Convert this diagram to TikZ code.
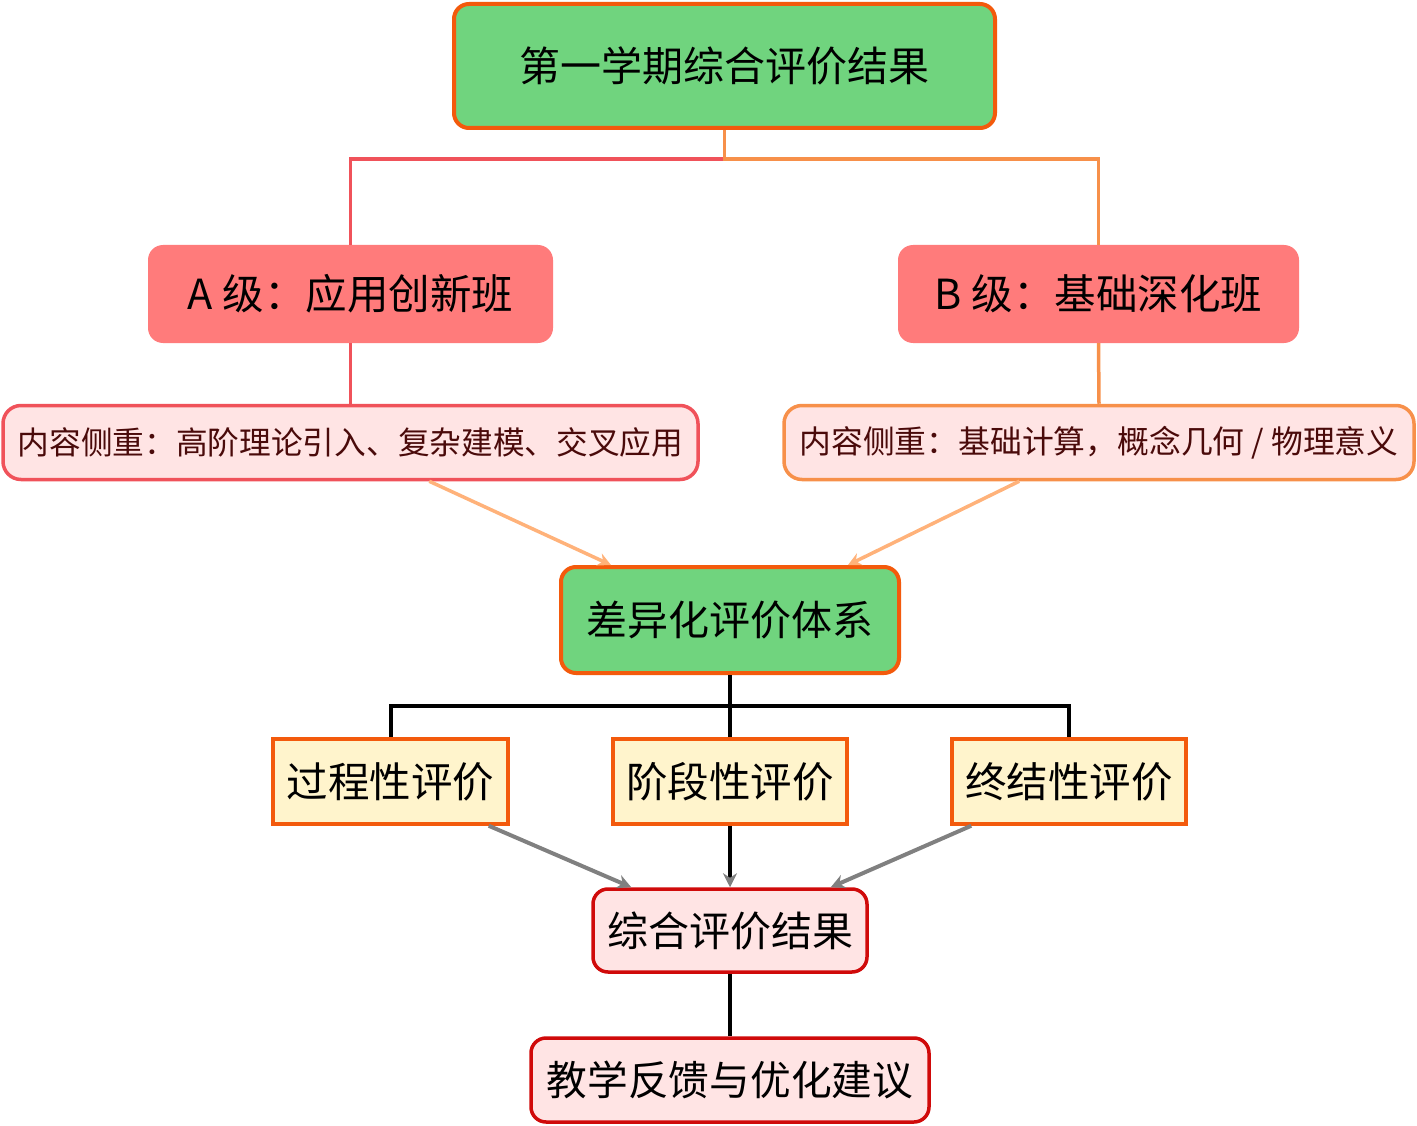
\documentclass[tikz,border=0pt]{standalone}
\usepackage{fontspec}
\newfontfamily\cjk{Noto Sans CJK SC}
\usetikzlibrary{arrows.meta,calc}
\definecolor{gfill}{RGB}{112,212,126}
\definecolor{oborder}{RGB}{243,90,12}
\definecolor{salmon}{RGB}{255,123,123}
\definecolor{redline}{RGB}{240,82,90}
\definecolor{orangeline}{RGB}{247,144,74}
\definecolor{pinkfill}{RGB}{255,228,228}
\definecolor{brown}{RGB}{74,10,10}
\definecolor{lightarrow}{RGB}{255,178,122}
\definecolor{yfill}{RGB}{255,244,204}
\definecolor{dred}{RGB}{208,10,10}
\definecolor{grayarrow}{RGB}{128,128,128}
\tikzset{
  box/.style={rectangle, inner sep=0pt, align=center, font=\cjk},
  greenbox/.style={box, fill=gfill, draw=oborder, line width=4pt, rounded corners=15pt},
  classbox/.style={box, fill=salmon, rounded corners=15pt},
  detailbox/.style={box, fill=pinkfill, line width=3.5pt, rounded corners=18pt, text=brown},
  evalbox/.style={box, fill=yfill, draw=oborder, line width=3.5pt},
  resbox/.style={box, fill=pinkfill, draw=dred, line width=3.5pt, rounded corners=15pt},
  tree/.style={line width=4pt, draw=black},
  garrow/.style={line width=4pt, draw=grayarrow, -{Stealth[length=14pt,width=14pt]}},
  larrow/.style={line width=3.5pt, draw=lightarrow, -{Stealth[length=13pt,width=13pt]}}
}
\begin{document}
\begin{tikzpicture}[x=1pt,y=-1pt]
\useasboundingbox (0,0) rectangle (1417,1126);
% nodes
\node[greenbox, minimum width=541pt, minimum height=124pt, font=\cjk\fontsize{41}{46}\selectfont] (top) at (724.5,66) {第一学期综合评价结果};
\node[classbox, minimum width=405pt, minimum height=98pt, font=\cjk\fontsize{41.5}{46}\selectfont] (A) at (350.5,294) {A 级：应用创新班};
\node[classbox, minimum width=401pt, minimum height=98pt, font=\cjk\fontsize{41.5}{46}\selectfont] (B) at (1098.5,294) {B 级：基础深化班};
\node[detailbox, draw=redline, minimum width=695pt, minimum height=74pt, font=\cjk\fontsize{31.7}{38}\selectfont] (ad) at (350.5,442.5) {内容侧重：高阶理论引入、复杂建模、交叉应用};
\node[detailbox, draw=orangeline, minimum width=630pt, minimum height=74pt, font=\cjk\fontsize{31.8}{38}\selectfont] (bd) at (1099,442.5) {内容侧重：基础计算，概念几何 / 物理意义};
\node[greenbox, minimum width=338pt, minimum height=106pt, font=\cjk\fontsize{41}{46}\selectfont] (mid) at (730,620) {差异化评价体系};
\node[evalbox, minimum width=235pt, minimum height=85pt, font=\cjk\fontsize{41.5}{48}\selectfont] (p1) at (390.5,781.5) {过程性评价};
\node[evalbox, minimum width=234pt, minimum height=85pt, font=\cjk\fontsize{41.5}{48}\selectfont] (p2) at (730,781.5) {阶段性评价};
\node[evalbox, minimum width=234pt, minimum height=85pt, font=\cjk\fontsize{41.5}{48}\selectfont] (p3) at (1069,781.5) {终结性评价};
\node[resbox, minimum width=274pt, minimum height=83pt, font=\cjk\fontsize{41}{46}\selectfont] (res) at (730,930.5) {综合评价结果};
\node[resbox, minimum width=398pt, minimum height=84pt, font=\cjk\fontsize{40.7}{46}\selectfont] (fb) at (730,1080) {教学反馈与优化建议};
% connectors top
\draw[line width=3.5pt, draw=redline] (top.south) -- ++(0,29) -| (A.north);
\draw[line width=3.5pt, draw=orangeline] (top.south) -- ++(0,29) -| (B.north);
\draw[line width=3.5pt, draw=redline] (A.south) -- (ad.north);
\draw[line width=3.5pt, draw=orangeline] (B.south) -- (bd.north);
\draw[larrow] ($(ad.south west)+(428,0)$) -- ($(mid.north west)+(52,0)$);
\draw[larrow] ($(bd.south west)+(237,0)$) -- ($(mid.north east)+(-53,0)$);
% tree
\draw[tree] (mid.south) -- ++(0,31) -| (p1.north);
\draw[tree] (mid.south) -- ++(0,31) -| (p3.north);
\draw[tree] (mid.south) -- (p2.north);
% to results
\draw[garrow] ($(p1.south east)+(-21,0)$) -- ($(res.north west)+(40,0)$);
\draw[garrow] ($(p3.south west)+(21,0)$) -- ($(res.north east)+(-38,0)$);
\draw[line width=4pt, draw=black, -{Stealth[length=14pt,width=14pt,color=grayarrow]}] (p2.south) -- (res.north);
\draw[tree] (res.south) -- (fb.north);
\end{tikzpicture}
\end{document}
